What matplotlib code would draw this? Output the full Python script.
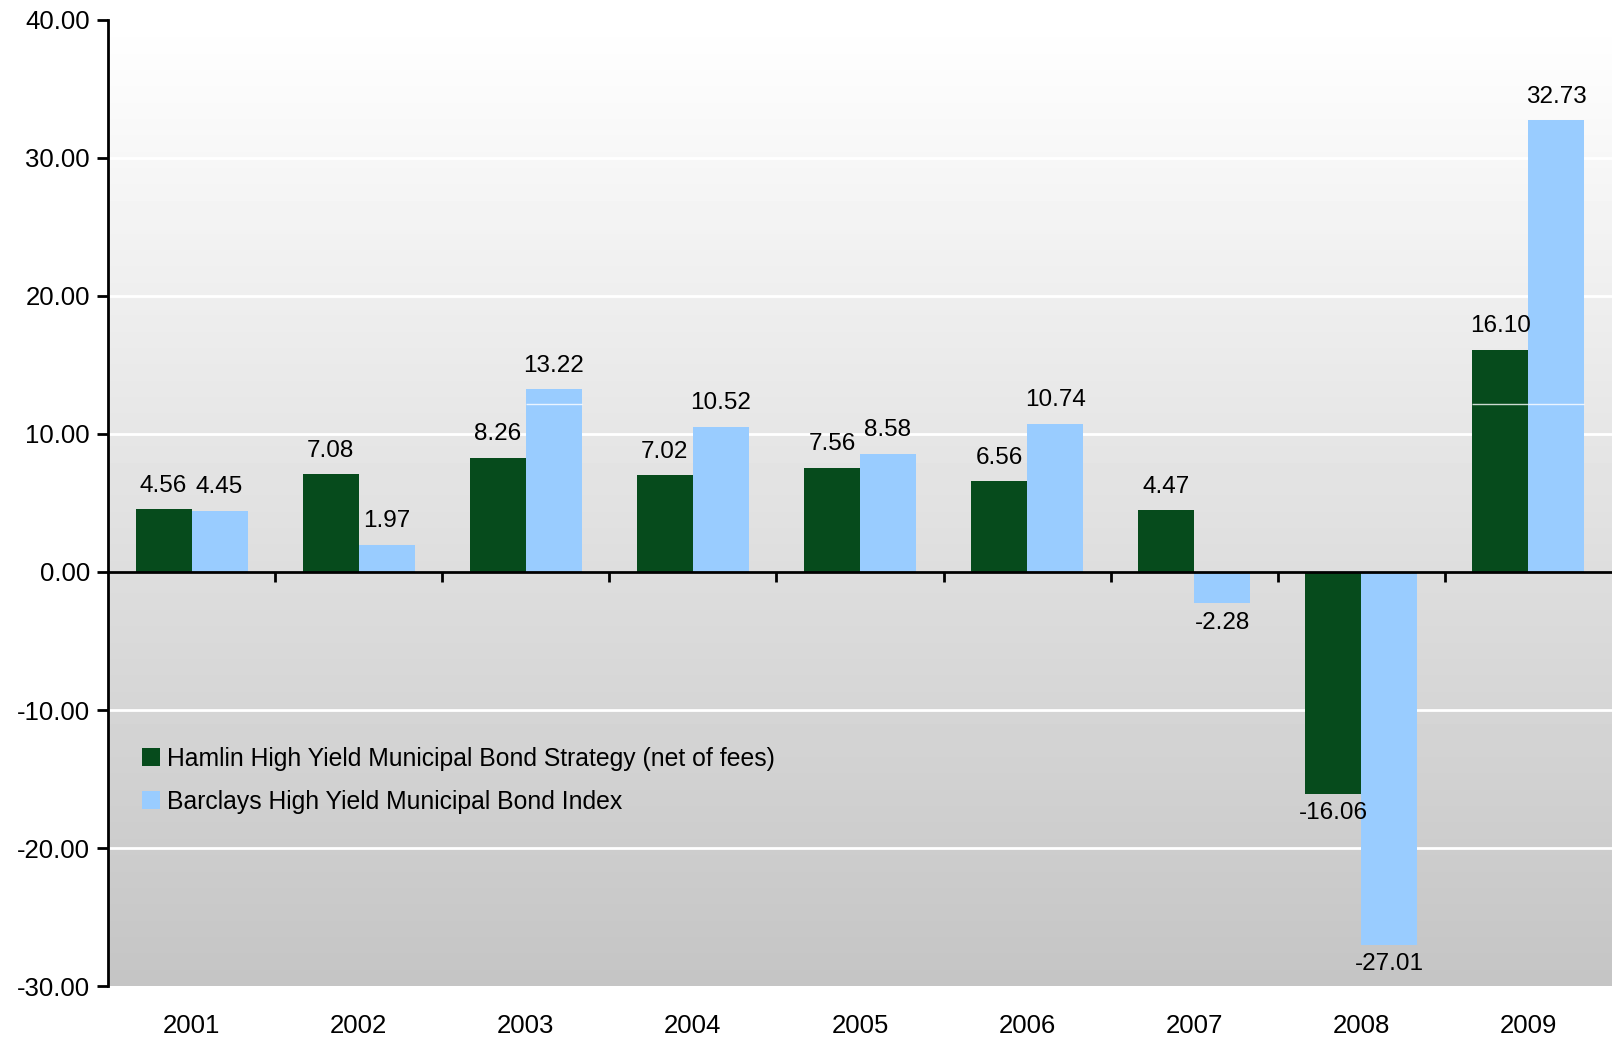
import numpy as np
import matplotlib.pyplot as plt
from matplotlib.transforms import blended_transform_factory

plt.rcParams['font.family'] = ['Liberation Sans', 'DejaVu Sans']

years = ['2001', '2002', '2003', '2004', '2005', '2006', '2007', '2008', '2009']
hamlin = [4.56, 7.08, 8.26, 7.02, 7.56, 6.56, 4.47, -16.06, 16.10]
barclays = [4.45, 1.97, 13.22, 10.52, 8.58, 10.74, -2.28, -27.01, 32.73]
series_names = ['Hamlin High Yield Municipal Bond Strategy (net of fees)',
                'Barclays High Yield Municipal Bond Index']
colors = ['#064b1c', '#99ccff']

fig = plt.figure(figsize=(16.12, 10.37), dpi=100)
ax = fig.add_axes([0.067, 0.049, 0.933, 0.932])

ymin, ymax = -30, 40
x = np.arange(len(years))
w = 0.335

# vertical grey gradient behind the plot
grad = np.linspace(1.0, 0.77, 256).reshape(-1, 1)
ax.imshow(grad, extent=(-0.5, len(years) - 0.5, ymin, ymax), aspect='auto',
          cmap='gray', vmin=0, vmax=1, zorder=0, interpolation='bilinear')

for yv in range(-20, 40, 10):
    ax.axhline(yv, color='white', lw=2, zorder=1)

b1 = ax.bar(x - w / 2, hamlin, w, color=colors[0], label=series_names[0], zorder=2)
b2 = ax.bar(x + w / 2, barclays, w, color=colors[1], label=series_names[1], zorder=2)

# faint seam across the taller bars
for bars in (b1, b2):
    for r in bars:
        if r.get_height() > 12.15:
            ax.hlines(12.15, r.get_x(), r.get_x() + r.get_width(),
                      color='white', lw=1, alpha=0.8, zorder=3)

for bars, vals in ((b1, hamlin), (b2, barclays)):
    for r, v in zip(bars, vals):
        cx = r.get_x() + r.get_width() / 2
        if v >= 0:
            ax.annotate(f'{v:.2f}', (cx, v), xytext=(0, 9), textcoords='offset points',
                        ha='center', va='bottom', fontsize=17.5)
        else:
            ax.annotate(f'{v:.2f}', (cx, v), xytext=(0, -6), textcoords='offset points',
                        ha='center', va='top', fontsize=17.5)

ax.set_xlim(-0.5, len(years) - 0.5)
ax.set_ylim(ymin, ymax)
ax.set_yticks(range(ymin, ymax + 1, 10))
ax.set_yticklabels([f'{v:.2f}' for v in range(ymin, ymax + 1, 10)], fontsize=18.5)

ax.spines['top'].set_visible(False)
ax.spines['right'].set_visible(False)
ax.spines['bottom'].set_position(('data', 0))
ax.spines['bottom'].set_linewidth(2)
ax.spines['left'].set_linewidth(2)
ax.spines['bottom'].set_zorder(4)

ax.set_xticks(x[:-1] + 0.5)
ax.set_xticklabels([])
ax.tick_params(axis='x', direction='out', length=7, width=2)
ax.tick_params(axis='y', direction='out', length=8, width=2, pad=5)

trans = blended_transform_factory(ax.transData, ax.transAxes)
for xi, yr in zip(x, years):
    ax.text(xi, -0.041, yr, transform=trans, ha='center', va='center', fontsize=18.5)

ax.legend(loc='upper left', bbox_to_anchor=(0.008, 0.271), frameon=False, fontsize=17.8,
          handlelength=0.7, handleheight=0.7, handletextpad=0.3, labelspacing=0.78)

fig.savefig('out.png', dpi=100)
